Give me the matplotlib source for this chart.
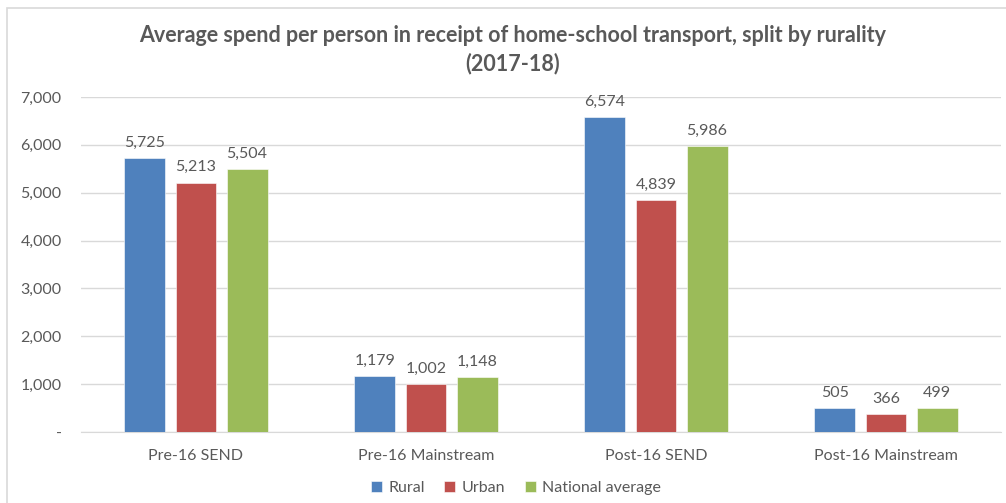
import numpy as np
import matplotlib
matplotlib.use("Agg")
from matplotlib import pyplot as plt
from matplotlib.patches import Rectangle
from matplotlib.ticker import FuncFormatter

categories = ["Pre-16 SEND", "Pre-16 Mainstream", "Post-16 SEND", "Post-16 Mainstream"]
series = ["Rural", "Urban", "National average"]
rural = [5725, 1179, 6574, 505]
urban = [5213, 1002, 4839, 366]
national = [5504, 1148, 5986, 499]
colors = ["#4F81BD", "#C0504D", "#9BBB59"]

plt.rcParams["font.family"] = ["Lato", "DejaVu Sans"]
txt = "#595959"

fig = plt.figure(figsize=(10.06, 5.03), dpi=100)
fig.patches.append(Rectangle((7 / 1006, -0.1), 1.2, 1 - 8 / 503 + 0.1, transform=fig.transFigure,
                             fill=False, edgecolor="#D9D9D9", linewidth=1.2))
ax = fig.add_axes([81 / 1006, 1 - 432 / 503, 920 / 1006, 335 / 503])

x = np.arange(len(categories))
w = 0.178
step = 0.222
for i, (vals, name) in enumerate(zip([rural, urban, national], series)):
    pos = x + (i - 1) * step
    bars = ax.bar(pos, vals, w, color=colors[i], label=name, zorder=3,
                  edgecolor="#FFFFFF", linewidth=0.4)
    for b, v in zip(bars, vals):
        ax.text(b.get_x() + b.get_width() / 2, v + 170, f"{v:,}", ha="center", va="bottom",
                fontsize=11.5, color=txt)

ax.set_xlim(-0.5, 3.5)
ax.set_ylim(0, 7000)
ax.set_yticks(range(0, 7001, 1000))
ax.yaxis.set_major_formatter(FuncFormatter(lambda v, p: "-" if v == 0 else f"{int(v):,}"))
ax.grid(axis="y", color="#D9D9D9", linewidth=1, zorder=0)
ax.set_xticks(x)
ax.set_xticklabels(categories)
ax.tick_params(axis="both", length=0, labelsize=11.5, colors=txt)
ax.tick_params(axis="x", pad=12)
ax.tick_params(axis="y", pad=14)
for s in ["top", "right", "left"]:
    ax.spines[s].set_visible(False)
ax.spines["bottom"].set_color("#D9D9D9")

cx = 513 / 1006
fig.text(cx, 1 - 36 / 503, "Average spend per person in receipt of home-school transport, split by rurality",
         ha="center", va="center", fontsize=15.5, fontweight="bold", color=txt)
fig.text(cx, 1 - 64 / 503, "(2017-18)", ha="center", va="center", fontsize=15.5, fontweight="bold", color=txt)

leg = fig.legend(loc="center", bbox_to_anchor=(516 / 1006, 1 - 488 / 503), ncol=3, frameon=False,
                 fontsize=11.5, handlelength=0.7, handleheight=0.7, handletextpad=0.4, columnspacing=1.2)
for t in leg.get_texts():
    t.set_color(txt)

fig.savefig("out.png", dpi=100)
